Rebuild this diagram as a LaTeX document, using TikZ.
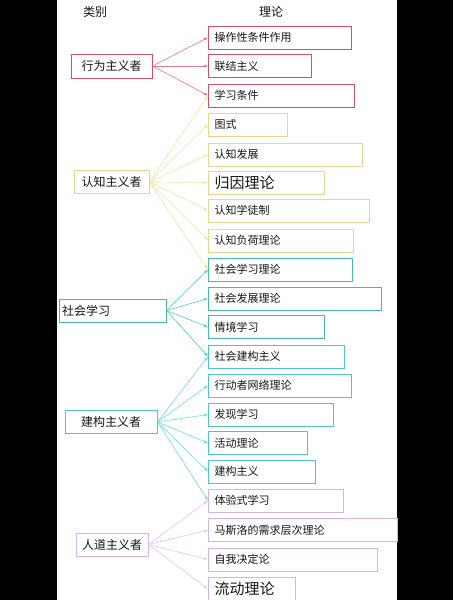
\documentclass[tikz,border=0pt]{standalone}
\usepackage{fontspec}
\setmainfont{Noto Sans CJK SC}
\usetikzlibrary{arrows.meta}

\definecolor{txt}{HTML}{151515}
\definecolor{xwbox}{HTML}{D0506E}
\definecolor{rzbox}{HTML}{EBD48E}
\definecolor{shbox}{HTML}{48B8A8}
\definecolor{jgbox}{HTML}{50C4D4}
\definecolor{rdbox}{HTML}{D4B4E4}
\definecolor{xwline}{HTML}{E07890}
\definecolor{rzline}{HTML}{F5E29A}
\definecolor{shline}{HTML}{58CCBC}
\definecolor{jgline}{HTML}{78D6E6}
\definecolor{rdline}{HTML}{E2C6EE}

\begin{document}
\begin{tikzpicture}[x=1pt,y=-1pt,
  rbox/.style={draw=#1, line width=1pt, anchor=west, minimum height=23pt,
    inner xsep=6pt, inner ysep=0pt, align=left, text=txt,
    font=\fontsize{11}{11}\selectfont},
  cbox/.style={draw=#1, line width=1pt, minimum height=23pt, inner sep=0pt,
    text=txt, font=\fontsize{12}{12}\selectfont},
  big/.style={font=\fontsize{15}{15}\selectfont},
  link/.style={draw=#1, line width=0.6pt, -{Latex[length=4pt,width=3pt]}}]

% frame
\fill[black] (0,0) rectangle (453,600);
\fill[white] (57,0) rectangle (397,600);
\useasboundingbox (0,0) rectangle (453,600);

% headers
\node[text=txt, font=\fontsize{12}{12}\selectfont] (hcat) at (95,12) {类别};
\node[text=txt, font=\fontsize{12}{12}\selectfont] (hth) at (271,12) {理论};

% categories
\node[cbox=xwbox, minimum width=81pt, minimum height=24pt] (xw) at (111.5,66) {行为主义者};
\node[cbox=rzbox, minimum width=75pt] (rz) at (111.5,182) {认知主义者};
\node[cbox=shbox, text width=101pt, inner xsep=3pt, align=left] (sh) at (112.5,310.5) {社会学习};
\node[cbox=jgbox, minimum width=92pt] (jg) at (111,422) {建构主义者};
\node[cbox=rdbox, minimum width=72pt] (rd) at (112,544.5) {人道主义者};

% theories
\node[rbox=xwbox, text width=131pt] (czx)  at (208,37.5)  {操作性条件作用};
\node[rbox=xwbox, text width=91pt]  (ljzy) at (208,66)    {联结主义};
\node[rbox=xwbox, text width=134pt] (xxtj) at (208,95.5)  {学习条件};
\node[rbox=rzbox, text width=67pt]  (ts)   at (208,124.5) {图式};
\node[rbox=rzbox, text width=142pt] (rzfz) at (208,154.5) {认知发展};
\node[rbox=rzbox, text width=104pt, big] (gyll) at (208,182.5) {归因理论};
\node[rbox=rzbox, text width=149pt] (rztz) at (208,210.5) {认知学徒制};
\node[rbox=rzbox, text width=133pt] (rzfh) at (208,240.5) {认知负荷理论};
\node[rbox=shbox, text width=132pt] (shxx) at (208,269.5) {社会学习理论};
\node[rbox=shbox, text width=161pt] (shfz) at (208,298.5) {社会发展理论};
\node[rbox=shbox, text width=104pt] (qjxx) at (208,327)   {情境学习};
\node[rbox=jgbox, text width=124pt] (shjg) at (208,356.5) {社会建构主义};
\node[rbox=jgbox, text width=131pt] (xdz)  at (208,385.5) {行动者网络理论};
\node[rbox=jgbox, text width=113pt] (fxxx) at (208,414.5) {发现学习};
\node[rbox=jgbox, text width=87pt]  (hdll) at (208,443)   {活动理论};
\node[rbox=jgbox, text width=95pt]  (jgzy) at (208,471.5) {建构主义};
\node[rbox=rdbox, text width=123pt] (tyxx) at (208,500.5) {体验式学习};
\node[rbox=rdbox, text width=177pt] (msl)  at (208,530)   {马斯洛的需求层次理论};
\node[rbox=rdbox, text width=157pt] (zwjd) at (208,559.5) {自我决定论};
\node[rbox=rdbox, text width=75pt, big] (ldll) at (208,589) {流动理论};

% links
\foreach \t in {czx,ljzy,xxtj}
  \draw[link=xwline] (xw.east) -- (\t.west);
\foreach \t in {xxtj,ts,rzfz,gyll,rztz,rzfh,shxx}
  \draw[link=rzline] (rz.east) -- (\t.west);
\foreach \t in {shxx,shfz,qjxx,shjg}
  \draw[link=shline] (sh.east) -- (\t.west);
\foreach \t in {shjg,xdz,fxxx,hdll,jgzy,tyxx}
  \draw[link=jgline] (jg.east) -- (\t.west);
\foreach \t in {tyxx,msl,zwjd,ldll}
  \draw[link=rdline] (rd.east) -- (\t.west);
\end{tikzpicture}
\end{document}
